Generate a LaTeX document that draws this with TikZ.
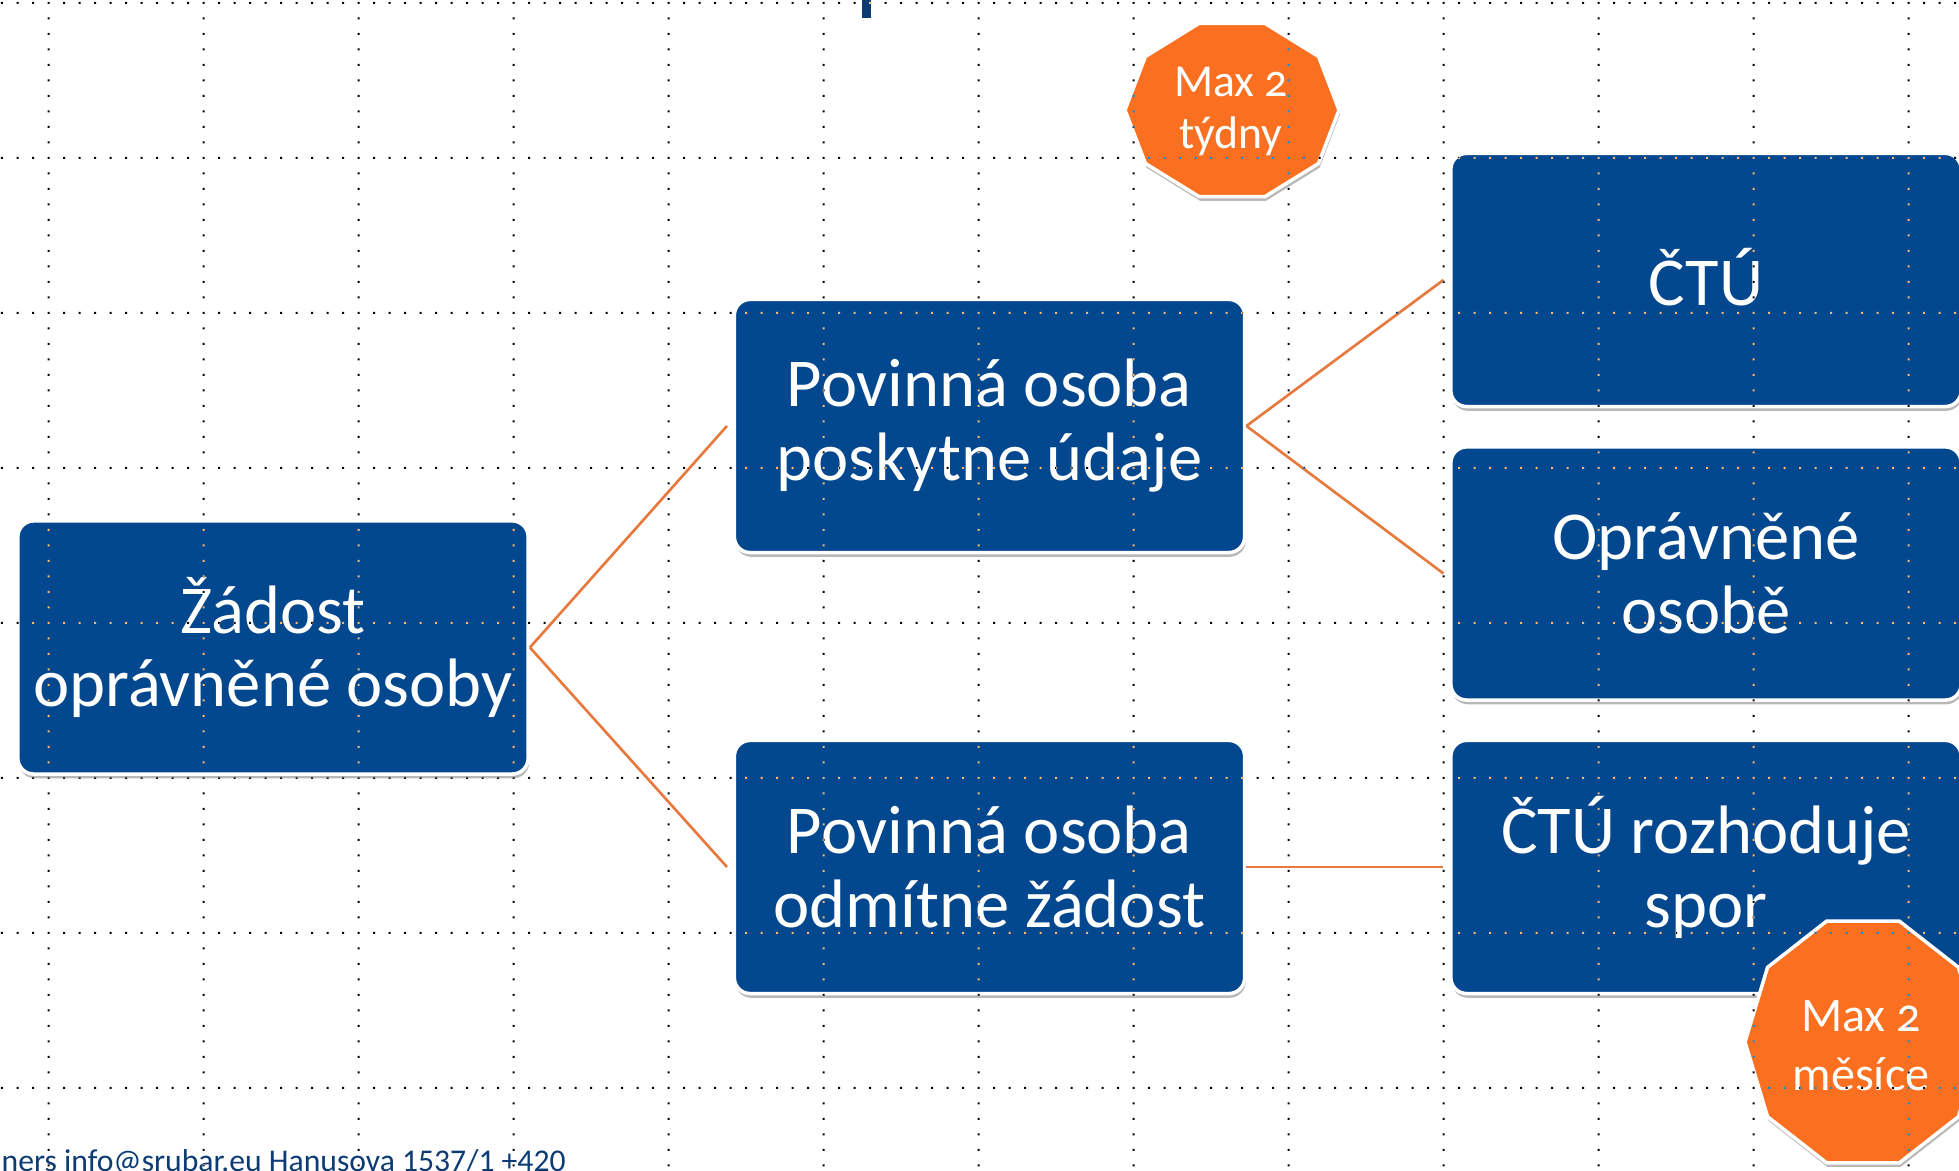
\documentclass[tikz,border=0pt]{standalone}
\usepackage{fontspec}
\setmainfont{Carlito}
\usetikzlibrary{shadows}
\definecolor{boxblue}{RGB}{3,71,143}
\definecolor{badgeorange}{RGB}{250,112,32}
\definecolor{linkorange}{RGB}{232,121,62}
\definecolor{footblue}{RGB}{12,60,115}
\tikzset{
  stepbox/.style={rectangle, rounded corners=4.5pt, fill=boxblue, draw=white,
    line width=1pt, minimum width=5.10cm, minimum height=2.53cm, inner sep=0pt,
    text=white, align=center, font=\fontsize{19.5}{21}\selectfont,
    drop shadow={shadow xshift=0.3pt, shadow yshift=-1.2pt, opacity=0.28, fill=black}},
  badgeshape/.style={fill=badgeorange, draw=white, line width=1pt,
    drop shadow={shadow xshift=0.3pt, shadow yshift=-1.2pt, opacity=0.28, fill=black}},
  badgetext/.style={text=white, align=center, inner sep=0pt},
  linkline/.style={draw=linkorange, line width=0.75pt},
}
\begin{document}
\begin{tikzpicture}[x=0.01cm,y=-0.01cm]
\useasboundingbox (0,0) rectangle (1959,1171);
\fill[white] (0,0) rectangle (1959,1171);

% remnant of title at top
\fill[footblue] (862,-5) rectangle (871,18);

% boxes
\node[stepbox] (A) at (273,647.5) {Žádost\\oprávněné osoby};
\node[stepbox] (B) at (989.5,426) {Povinná osoba\\poskytne údaje};
\node[stepbox] (C) at (989.5,867) {Povinná osoba\\odmítne žádost};
\node[stepbox] (D) at (1706,280) {\raisebox{2pt}{ČTÚ}};
\node[stepbox] (E) at (1706,573.5) {Oprávněné\\osobě};
\node[stepbox] (F) at (1706,867) {ČTÚ rozhoduje\\spor};

% connectors
\draw[linkline] (A.east) -- ([xshift=-1.6pt]B.west);
\draw[linkline] (A.east) -- ([xshift=-1.6pt]C.west);
\draw[linkline] (B.east) -- ([xshift=-1.6pt]D.west);
\draw[linkline] (B.east) -- ([xshift=-1.6pt]E.west);
\draw[linkline] (C.east) -- ([xshift=-1.6pt]F.west);

% badges
\path[badgeshape, shift={(1232,110)}]
  (0:107 and 91) -- (36:107 and 91) -- (72:107 and 91) -- (108:107 and 91) -- (144:107 and 91)
  -- (180:107 and 91) -- (216:107 and 91) -- (252:107 and 91) -- (288:107 and 91) -- (324:107 and 91) -- cycle;
\node[badgetext, font=\fontsize{13}{14.8}\selectfont\addfontfeatures{Numbers=OldStyle}] (T1) at (1231,112) {Max 2\\týdny};

\path[badgeshape, shift={(1863,1042)}]
  (0:118 and 127) -- (36:118 and 127) -- (72:118 and 127) -- (108:118 and 127) -- (144:118 and 127)
  -- (180:118 and 127) -- (216:118 and 127) -- (252:118 and 127) -- (288:118 and 127) -- (324:118 and 127) -- cycle;
\node[badgetext, font=\fontsize{13.7}{16.8}\selectfont\addfontfeatures{Numbers=OldStyle}] (T2) at (1861,1046) {Max 2\\měsíce};

% footer
\node[anchor=base west, inner sep=0pt, text=footblue, font=\fontsize{9}{10}\selectfont] (foot) at (1,1172) {ners info@srubar.eu Hanusova 1537/1 +420};

% grid overlay
\begin{scope}[blend mode=difference]
\fill[white]
  \foreach \j in {0,...,7} { \foreach \m in {-3,...,123} {
    ({48.5+15.5*\m-1},{3+155*\j-1}) rectangle ++(2,2) } }
  \foreach \k in {0,...,12} { \foreach \n in {0,...,75} {
    ({48.5+155*\k-1},{3+15.5*\n-1}) rectangle ++(2,2) } };
\end{scope}
\end{tikzpicture}
\end{document}
